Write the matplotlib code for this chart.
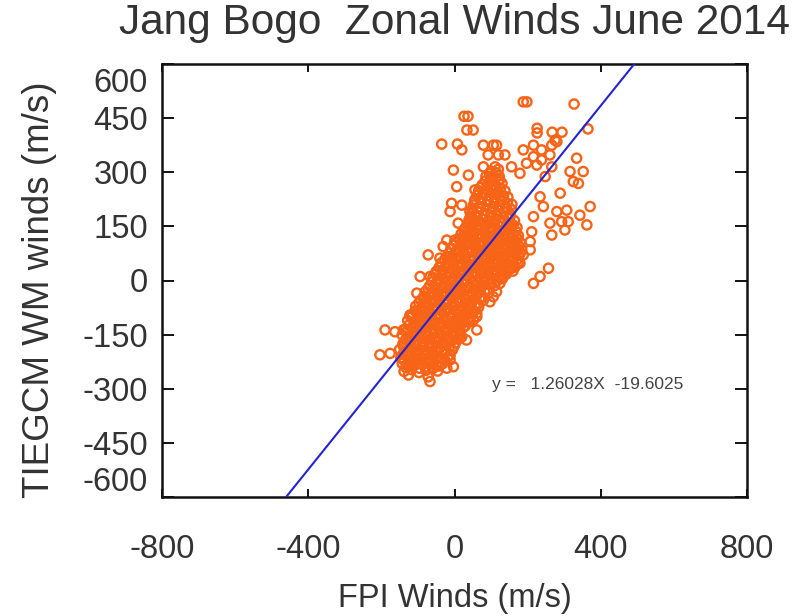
import matplotlib
matplotlib.use("Agg")
import matplotlib.pyplot as plt
from matplotlib.transforms import ScaledTranslation
import numpy as np

plt.rcParams['font.family'] = ['Liberation Sans', 'DejaVu Sans']

title = "Jang Bogo  Zonal Winds June 2014"
xlabel = "FPI Winds (m/s)"
ylabel = "TIEGCM WM winds (m/s)"
xticks = [-800, -400, 0, 400, 800]
yticks = [-600, -450, -300, -150, 0, 150, 300, 450, 600]
fit_slope = 1.26028
fit_intercept = -19.6025
fit_text = "y =   1.26028X  -19.6025"

# dense core of the cloud (read row by row)
fpi_core = [
    -138, -118, -97, -78, -60, -46,
    -143, -125, -106, -87, -68, -50, -33,
    -147, -128, -110, -92, -73, -55, -37, -18,
    -150, -132, -114, -96, -78, -60, -42, -24, -6,
    -141, -123, -105, -87, -69, -51, -33, -15, 3,
    -143, -125, -107, -89, -71, -53, -35, -17, 1, 14,
    -134, -116, -98, -80, -62, -44, -26, -8, 10, 25,
    -128, -110, -92, -74, -56, -38, -20, -2, 16, 36,
    -116, -98, -80, -62, -44, -26, -8, 10, 28, 46,
    -106, -88, -70, -52, -34, -16, 2, 20, 38, 56, 66,
    -93, -75, -57, -39, -21, -3, 15, 33, 51, 69, 79,
    -80, -62, -44, -26, -8, 10, 28, 46, 64, 82, 93,
    -68, -50, -32, -14, 4, 22, 40, 58, 76, 94, 110,
    -59, -41, -23, -5, 13, 31, 49, 67, 85, 103, 121, 131,
    -50, -32, -14, 4, 22, 40, 58, 76, 94, 112, 130, 148, 160,
    -36, -18, 0, 18, 36, 54, 72, 90, 108, 126, 144, 162, 174,
    -22, -4, 14, 32, 50, 68, 86, 104, 122, 140, 158, 176,
    -10, 8, 26, 44, 62, 80, 98, 116, 134, 152, 170, 184,
    4, 22, 40, 58, 76, 94, 112, 130, 148, 166, 180,
    18, 36, 54, 72, 90, 108, 126, 144, 162, 175,
    30, 48, 66, 84, 102, 120, 138, 156, 171,
    40, 58, 76, 94, 112, 130, 148, 164,
    46, 64, 82, 100, 118, 136, 152,
    52, 70, 88, 106, 124, 142, 157,
    56, 74, 92, 110, 128, 146,
    66, 84, 102, 120, 138,
    76, 94, 112, 130,
    86, 104, 122,
    100, 120,
]
tiegcm_core = [
    -252, -247, -255, -249, -244, -251,
    -230, -236, -228, -233, -229, -235, -231,
    -214, -210, -217, -212, -215, -209, -216, -211,
    -191, -196, -190, -194, -192, -197, -189, -195, -193,
    -175, -170, -176, -171, -174, -169, -177, -172, -173,
    -151, -156, -150, -154, -152, -157, -149, -155, -153, -150,
    -135, -130, -136, -131, -134, -129, -137, -132, -133, -130,
    -111, -116, -110, -114, -112, -117, -109, -115, -113, -110,
    -95, -90, -96, -91, -94, -89, -97, -92, -93, -90,
    -71, -76, -70, -74, -72, -77, -69, -75, -73, -70, -74,
    -55, -50, -56, -51, -54, -49, -57, -52, -53, -50, -55,
    -31, -36, -30, -34, -32, -37, -29, -35, -33, -30, -34,
    -15, -10, -16, -11, -14, -9, -17, -12, -13, -10, -14,
    9, 4, 10, 5, 8, 3, 11, 6, 7, 4, 8, 5,
    25, 30, 24, 29, 26, 31, 23, 28, 27, 30, 25, 29, 26,
    49, 44, 50, 45, 48, 43, 51, 46, 47, 44, 48, 45, 49,
    65, 70, 64, 69, 66, 71, 63, 68, 67, 70, 65, 69,
    89, 84, 90, 85, 88, 83, 91, 86, 87, 84, 88, 85,
    105, 110, 104, 109, 106, 111, 103, 108, 107, 110, 105,
    129, 124, 130, 125, 128, 123, 131, 126, 127, 124,
    145, 150, 144, 149, 146, 151, 143, 148, 147,
    169, 164, 170, 165, 168, 163, 171, 166,
    185, 190, 184, 189, 186, 191, 183,
    209, 204, 210, 205, 208, 203, 211,
    225, 230, 224, 229, 226, 231,
    249, 244, 250, 245, 248,
    265, 270, 264, 269,
    289, 284, 290,
    303, 308,
]

# second, interleaved layer of the dense core
fpi_core2 = [
    -133, -115, -96, -77, -58, -42,
    -138, -119, -100, -81, -62, -43, -26,
    -141, -122, -103, -84, -65, -47, -29, -12,
    -140, -122, -104, -86, -68, -50, -32, -14, -1,
    -134, -116, -98, -80, -62, -44, -26, -8, 8,
    -130, -112, -94, -76, -58, -40, -22, -4, 13,
    -125, -107, -89, -71, -53, -35, -17, 1, 19, 30,
    -119, -101, -83, -65, -47, -29, -11, 7, 25, 42,
    -108, -90, -72, -54, -36, -18, 0, 18, 36, 54,
    -97, -79, -61, -43, -25, -7, 11, 29, 47, 64,
    -84, -66, -48, -30, -12, 6, 24, 42, 60, 77,
    -72, -54, -36, -18, 0, 18, 36, 54, 72, 90,
    -62, -44, -26, -8, 10, 28, 46, 64, 82, 100, 116,
    -52, -34, -16, 2, 20, 38, 56, 74, 92, 110, 128, 142,
    -42, -24, -6, 12, 30, 48, 66, 84, 102, 120, 138, 156, 166,
    -27, -9, 9, 27, 45, 63, 81, 99, 117, 135, 153, 171,
    -14, 4, 22, 40, 58, 76, 94, 112, 130, 148, 166, 180,
    -2, 16, 34, 52, 70, 88, 106, 124, 142, 160, 176,
    12, 30, 48, 66, 84, 102, 120, 138, 156, 172,
    26, 44, 62, 80, 98, 116, 134, 152, 168,
    36, 54, 72, 90, 108, 126, 144, 161,
    44, 62, 80, 98, 116, 134, 152,
    50, 68, 86, 104, 122, 140, 155,
    55, 73, 91, 109, 127, 145,
    62, 80, 98, 116, 134,
    72, 90, 108, 126,
    84, 102, 120,
    96, 114,
]
tiegcm_core2 = [
    -241, -238, -243, -239, -242, -237,
    -221, -224, -219, -223, -220, -225, -222,
    -204, -201, -206, -202, -205, -200, -203, -207,
    -182, -185, -181, -184, -183, -186, -180, -184, -182,
    -164, -161, -166, -162, -165, -160, -163, -167, -162,
    -142, -145, -141, -144, -143, -146, -140, -144, -142,
    -124, -121, -126, -122, -125, -120, -123, -127, -122, -125,
    -102, -105, -101, -104, -103, -106, -100, -104, -102, -105,
    -84, -81, -86, -82, -85, -80, -83, -87, -82, -85,
    -62, -65, -61, -64, -63, -66, -60, -64, -62, -65,
    -44, -41, -46, -42, -45, -40, -43, -47, -42, -45,
    -22, -25, -21, -24, -23, -26, -20, -24, -22, -25,
    -4, -1, -6, -2, -5, 0, -3, -7, -2, -5, -1,
    18, 15, 20, 16, 19, 14, 17, 21, 16, 19, 15, 18,
    36, 39, 34, 38, 35, 40, 37, 33, 38, 35, 39, 36, 38,
    58, 55, 60, 56, 59, 54, 57, 61, 56, 59, 55, 58,
    76, 79, 74, 78, 75, 80, 77, 73, 78, 75, 79, 76,
    98, 95, 100, 96, 99, 94, 97, 101, 96, 99, 95,
    116, 119, 114, 118, 115, 120, 117, 113, 118, 115,
    138, 135, 140, 136, 139, 134, 137, 141, 136,
    156, 159, 154, 158, 155, 160, 157, 153,
    178, 175, 180, 176, 179, 174, 177,
    196, 199, 194, 198, 195, 200, 197,
    218, 215, 220, 216, 219, 214,
    236, 239, 234, 238, 235,
    258, 255, 260, 256,
    276, 279, 274,
    296, 299,
]

# scattered points around the core
fpi_outer = [
    -35, 8, 20, 79, 106, 92, 120, -3, 38, 79, 111, 6, 56, 97, 124, -8, 20, -12,
    42, 47, 10, 29, -21, 1, -31, -72, -40, 38, 47, 15, 29,
    115, 138, 188, 216, 238, 266, 280, 216, 238, 261, 197, 225, 266, 334, 316,
    352, 325, 339, 289, 243, 234, 280, 307, 311, 343, 371, 261, 293, 302, 266,
    362, 216, 211, 207, 207, 156, 179, 248,
    188, 198, 327, 26, 37, 34, 51, 226, 226, 267, 294, 365, 275,
    -12, -94, -67, -103, -85, -122, -103, -190, -163, -140, -204, -176, -131,
    -108, -126, -72, -67, -12, -3, -21, 15, 33, 61, 42, 33, 61, 10,
    257, 234, 216, 188, 179, 156, 134, 124, 115, 106, 97, 61, 52, 29, 20,
]
tiegcm_outer = [
    378, 378, 362, 375, 375, 348, 348, 306, 292, 315, 315, 260, 251, 288, 279, 214, 209, 191,
    191, 168, 159, 145, 112, 112, 94, 71, 62, 140, 121, 112, 103,
    375, 348, 362, 375, 362, 375, 385, 343, 334, 348, 325, 320, 315, 339, 302,
    302, 274, 269, 242, 205, 232, 191, 195, 163, 181, 205, 159, 163, 140, 126,
    154, 177, 135, 108, 85, 315, 297, 288,
    495, 495, 489, 455, 455, 417, 417, 422, 409, 411, 411, 420, 389,
    66, 11, 11, -35, -49, -96, -86, -137, -142, -137, -206, -202, -234,
    -234, -262, -267, -280, -220, -239, -243, -160, -165, -137, -114, -96, -100, -82,
    34, 11, -8, 71, 48, 34, 11, -8, -31, -45, -59, -91, -109, -114, -156,
]

fpi = np.array(fpi_core + fpi_core2 + fpi_outer, dtype=float)
tiegcm = np.array(tiegcm_core + tiegcm_core2 + tiegcm_outer, dtype=float)

fig = plt.figure(figsize=(8.07, 6.16), dpi=100)
ax = fig.add_axes([162 / 807, 1 - 497 / 616, 585 / 807, 433 / 616])

ax.scatter(fpi, tiegcm, s=44, facecolors='none', edgecolors='#f86417',
           linewidths=1.7, zorder=2)

xl = np.array([-800.0, 800.0])
ax.plot(xl, fit_slope * xl + fit_intercept, color='#2424d0', lw=1.5, zorder=3)

ax.set_xlim(-800, 800)
ax.set_ylim(-600, 600)
ax.set_xticks(xticks)
ax.set_yticks(yticks)
ax.set_xticklabels([str(v) for v in xticks])
ax.set_yticklabels([str(v) for v in yticks])

for s in ax.spines.values():
    s.set_linewidth(1.8)
    s.set_color('#111111')

ax.tick_params(axis='both', direction='in', width=1.4, colors='#111111',
               labelcolor='#333333', labelsize=23.5)
ax.tick_params(axis='x', length=6, pad=27, top=True)
ax.tick_params(axis='y', length=8.5, pad=10, right=True)

# end labels of the y axis sit inside the frame
ticks = ax.yaxis.get_major_ticks()
ticks[0].label1.set_transform(ticks[0].label1.get_transform() +
                              ScaledTranslation(0, 0.18, fig.dpi_scale_trans))
ticks[-1].label1.set_transform(ticks[-1].label1.get_transform() +
                               ScaledTranslation(0, -0.16, fig.dpi_scale_trans))

ax.set_xlabel(xlabel, fontsize=23.5, color='#333333', va='center')
ax.xaxis.set_label_coords(0.5, (18 - 119) / 433)
ax.set_ylabel(ylabel, fontsize=26.5, color='#333333', va='center')
ax.yaxis.set_label_coords((40 - 162) / 585, (326 - 119) / 433)

ax.set_title(title, fontsize=30.5, color='#333333', y=(585 - 119) / 433, va='center')

ax.text(103, -287, fit_text, fontsize=12.5, color='#444444', va='center', ha='left')

fig.savefig("out.png", dpi=100, facecolor='white')
